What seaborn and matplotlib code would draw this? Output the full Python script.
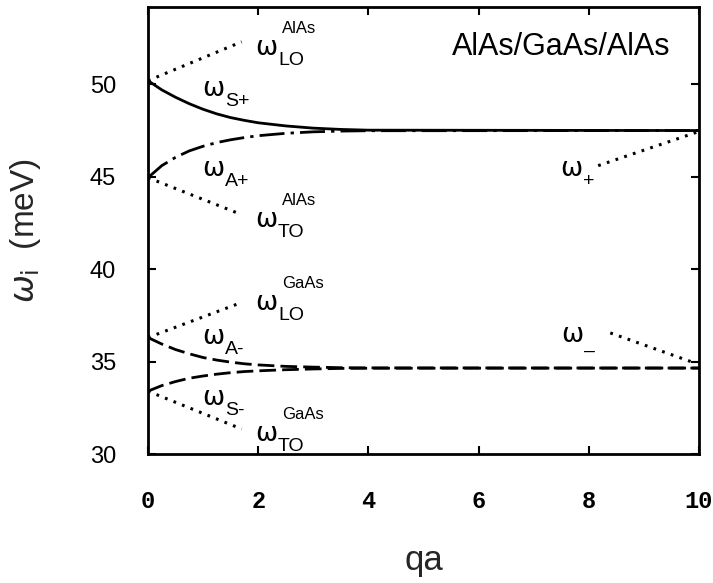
import matplotlib
matplotlib.use("Agg")
import matplotlib.pyplot as plt
import seaborn as sns
import pandas as pd

# Interface-phonon branches (qa, energy in meV)
qa_pts = [0, 0.25, 0.5, 0.75, 1.0, 1.25, 1.5, 1.75, 2.0, 2.5, 3.0, 3.5, 4.0, 10.0]
w_s_plus = [50.2, 49.7, 49.3, 48.95, 48.65, 48.4, 48.2, 48.05, 47.92, 47.75, 47.63, 47.56, 47.52, 47.5]
w_a_plus = [44.95, 45.6, 46.05, 46.4, 46.65, 46.85, 47.0, 47.12, 47.22, 47.35, 47.43, 47.47, 47.49, 47.5]
w_a_minus = [36.3, 35.95, 35.65, 35.42, 35.22, 35.08, 34.97, 34.88, 34.82, 34.74, 34.7, 34.67, 34.66, 34.65]
w_s_minus = [33.4, 33.7, 33.92, 34.1, 34.22, 34.32, 34.4, 34.46, 34.5, 34.56, 34.6, 34.63, 34.64, 34.65]

# Pointer segments (start/end) for bulk and limiting frequencies
lo_alas_x, lo_alas_y = [0.0, 1.7], [50.2, 52.3]
to_alas_x, to_alas_y = [0.0, 1.7], [44.95, 42.95]
lo_gaas_x, lo_gaas_y = [0.0, 1.7], [36.3, 38.2]
to_gaas_x, to_gaas_y = [0.0, 1.7], [33.4, 31.35]
w_plus_x, w_plus_y = [8.17, 10.0], [45.6, 47.45]
w_minus_x, w_minus_y = [8.39, 9.9], [36.55, 34.95]

x_ticks = [0, 2, 4, 6, 8, 10]
y_ticks = [30, 35, 40, 45, 50]
title_text = "AlAs/GaAs/AlAs"

sns.set_theme(style="ticks")
plt.rcParams["font.family"] = ["Liberation Sans", "DejaVu Sans"]
plt.rcParams["mathtext.fontset"] = "dejavusans"

fig = plt.figure(figsize=(7.13, 5.83), dpi=100)
W, H = 713, 583
ax = fig.add_axes([148 / W, (H - 454) / H, (699 - 148) / W, (454 - 6.7) / H])

def branch(y, ls):
    df = pd.DataFrame({"qa": qa_pts, "w": y})
    sns.lineplot(data=df, x="qa", y="w", ax=ax, color="black", lw=2.0,
                 linestyle=ls, sort=False)

branch(w_s_plus, "-")
branch(w_a_plus, (0, (9, 2.2, 1.2, 2.2)))
branch(w_a_minus, (0, (6, 2.2)))
branch(w_s_minus, (0, (6, 2.2)))

dot_style = (0, (0.9, 2.1))
for xs, ys in [(lo_alas_x, lo_alas_y), (to_alas_x, to_alas_y),
               (lo_gaas_x, lo_gaas_y), (to_gaas_x, to_gaas_y),
               (w_plus_x, w_plus_y), (w_minus_x, w_minus_y)]:
    df = pd.DataFrame({"qa": xs, "w": ys})
    sns.lineplot(data=df, x="qa", y="w", ax=ax, color="black", lw=2.2,
                 linestyle=dot_style, sort=False)

def omega_label(x, y, sub, sup=None, sub_dy=-10):
    ax.text(x, y, "ω", fontsize=19, family="DejaVu Sans", ha="left",
            va="baseline", color="black")
    ax.annotate(sub, (x, y), xytext=(23, sub_dy), textcoords="offset pixels",
                fontsize=14, ha="left", va="baseline", color="black")
    if sup:
        ax.annotate(sup, (x, y), xytext=(27, 22), textcoords="offset pixels",
                    fontsize=12, ha="left", va="baseline", color="black")

omega_label(1.94, 51.57, "LO", "AlAs")
omega_label(0.98, 49.36, "S+")
omega_label(0.98, 45.04, "A+")
omega_label(1.94, 42.3, "TO", "AlAs")
omega_label(1.94, 37.78, "LO", "GaAs")
omega_label(0.98, 35.96, "A-")
omega_label(0.98, 32.65, "S-")
omega_label(1.94, 30.73, "TO", "GaAs")
omega_label(7.48, 45.04, "+")
omega_label(7.5, 36.06, "–", sub_dy=-14)

ax.text(9.49, 52.0, title_text, fontsize=22, ha="right", va="center",
        color="black")

ax.set_xlim(0, 10)
ax.set_ylim(30, 54.2)
ax.set_xticks(x_ticks)
ax.set_yticks(y_ticks)
ax.set_xticklabels([str(t) for t in x_ticks], family="Liberation Mono",
                   fontweight="bold", fontsize=17)
ax.set_yticklabels([str(t) for t in y_ticks], fontsize=17)
ax.tick_params(direction="in", length=6, width=1.5, top=True, right=True,
               colors="black")
ax.tick_params(axis="x", pad=26)
ax.tick_params(axis="y", pad=23)
for s in ax.spines.values():
    s.set_linewidth(2)
    s.set_color("black")

ax.set_xlabel("qa", fontsize=25, labelpad=22)
ax.set_ylabel(r"$\omega_{\rm i}$  (meV)", fontsize=24, labelpad=34)

fig.savefig("out.png", dpi=100, facecolor="white")
